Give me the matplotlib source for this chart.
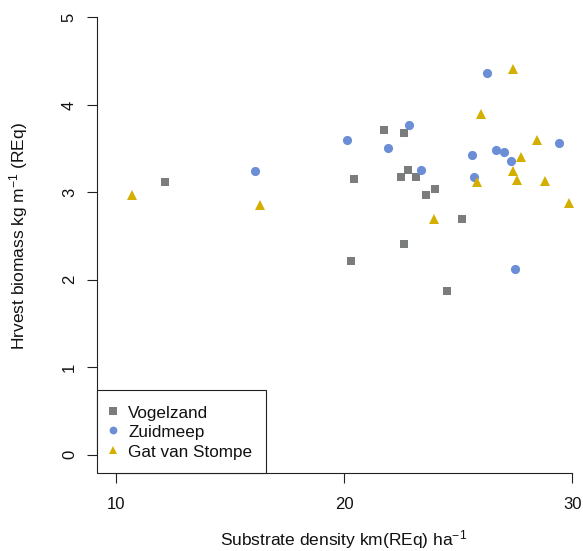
import matplotlib
matplotlib.use("Agg")
import matplotlib.pyplot as plt

plt.rcParams['font.family'] = ['Liberation Sans', 'DejaVu Sans']
plt.rcParams['mathtext.default'] = 'regular'

# Vogelzand (squares)
vog_x = [12.16, 20.42, 21.74, 22.63, 22.82, 22.51, 23.17, 24.00, 23.60, 25.16, 22.63, 20.32, 24.50]
vog_y = [3.12, 3.15, 3.71, 3.68, 3.25, 3.17, 3.17, 3.04, 2.97, 2.70, 2.41, 2.21, 1.87]

# Zuidmeep (circles)
zui_x = [16.11, 20.13, 21.91, 22.86, 23.37, 26.28, 25.61, 25.69, 26.64, 27.01, 27.31, 29.42, 27.49]
zui_y = [3.24, 3.60, 3.51, 3.77, 3.25, 4.36, 3.43, 3.18, 3.49, 3.46, 3.36, 3.57, 2.12]

# Gat van Stompe (triangles)
gat_x = [10.74, 16.31, 27.42, 25.99, 28.44, 27.77, 27.42, 25.84, 27.56, 28.82, 29.87, 23.96]
gat_y = [2.97, 2.85, 4.41, 3.90, 3.60, 3.40, 3.24, 3.12, 3.14, 3.13, 2.88, 2.69]

x_ticks = [10, 20, 30]
y_ticks = [0, 1, 2, 3, 4, 5]

W, H = 583, 551
fig = plt.figure(figsize=(W / 100, H / 100), dpi=100)
ax_left, ax_right, ax_bottom, ax_top = 97.3, 582.6, 473.0, 0.0
ax = fig.add_axes([ax_left / W, (H - ax_bottom) / H,
                   (ax_right - ax_left) / W, (ax_bottom - ax_top) / H])
ax.set_xlim(9.2, 30.45)
ax.set_ylim(-0.21, 5.2)

ax.plot(vog_x, vog_y, 's', color='#7b7c7c', ms=6, mew=0, label='Vogelzand')
ax.plot(zui_x, zui_y, 'o', color='#6b8ed6', ms=6.6, mew=0, label='Zuidmeep')
ax.plot(gat_x, gat_y, '^', color='#d4af00', ms=7.4, mew=0, label='Gat van Stompe')

for side in ['top', 'right']:
    ax.spines[side].set_visible(False)
for side in ['left', 'bottom']:
    ax.spines[side].set_linewidth(0.8)
    ax.spines[side].set_color('#222222')
ax.spines['left'].set_bounds(0, 5)
ax.spines['bottom'].set_bounds(10, 30)

ax.set_xticks(x_ticks)
ax.set_yticks(y_ticks)
ax.tick_params(direction='out', length=7.2, width=0.8, color='#222222',
               labelsize=12, labelcolor='#111111')
ax.tick_params(axis='x', pad=10)
ax.tick_params(axis='y', pad=7.5, labelrotation=90)
for lab in ax.get_yticklabels():
    lab.set_verticalalignment('center')

ax.set_xlabel('Substrate density km(REq) ha$^{-1}$', fontsize=12.5, color='#111111')
ax.set_ylabel('Hrvest biomass kg m$^{-1}$ (REq)', fontsize=12.5, color='#111111')
ax.xaxis.set_label_coords(0.507, -0.117)
ax.yaxis.set_label_coords(-0.1397, 0.5)

leg = ax.legend(loc='lower left', bbox_to_anchor=(0, 0), borderaxespad=0,
                fontsize=12.3, fancybox=False, framealpha=1, edgecolor='#222222',
                borderpad=0.78, handlelength=0.3, handletextpad=0.74,
                handleheight=1.15, labelspacing=0.13, markerscale=0.85)
leg.get_frame().set_linewidth(0.8)
for t in leg.get_texts():
    t.set_color('#111111')

fig.savefig('out.png', dpi=100)
